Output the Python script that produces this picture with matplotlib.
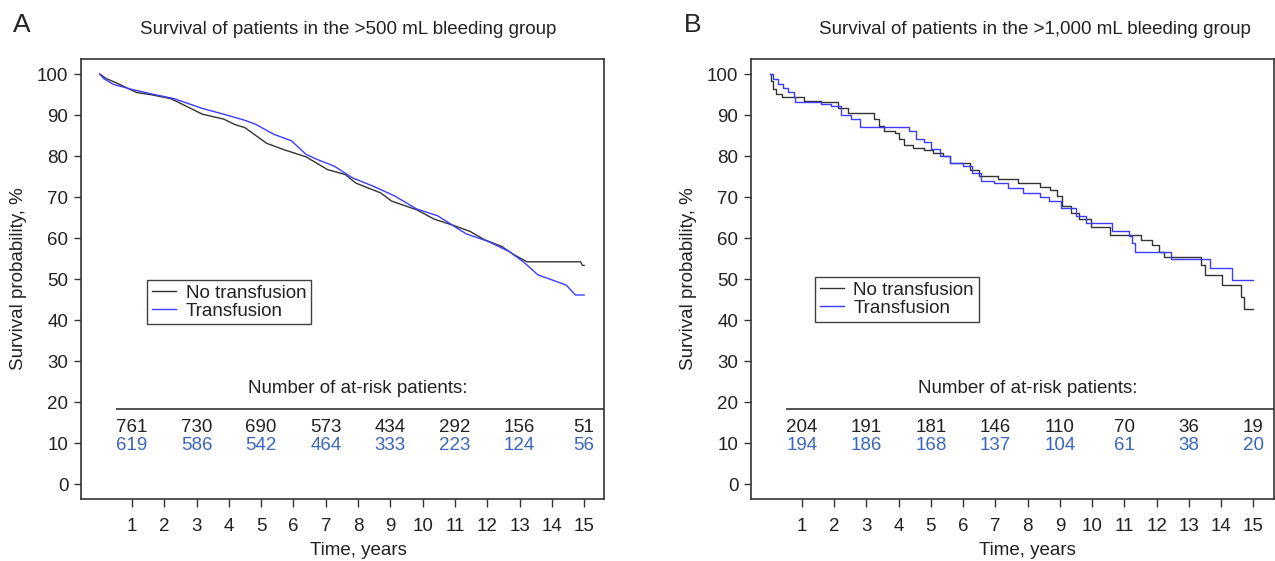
import numpy as np
import matplotlib
matplotlib.use("Agg")
import matplotlib.pyplot as plt
from matplotlib.transforms import blended_transform_factory

plt.rcParams['font.family'] = ['Liberation Sans', 'DejaVu Sans']

# Panel A (>500 mL) - curves
a_no_t = [0, 0.2, 0.53, 1.14, 1.63, 2.19, 2.41, 3.18, 3.84, 4.18, 4.5, 5.17, 5.72, 6.39, 7.05,
          7.6, 7.93, 8.7, 9.04, 9.81, 10.36, 10.91, 11.47, 11.91, 12.46, 12.79, 13.23, 14.89, 14.95, 15.0]
a_no_s = [100, 98.9, 97.8, 95.5, 94.9, 94.0, 93.2, 90.2, 89.0, 87.7, 86.9, 83.1, 81.5, 79.8, 76.7,
          75.5, 73.4, 71.0, 69.0, 66.9, 64.6, 63.2, 61.6, 59.6, 57.9, 56.1, 54.2, 54.2, 53.3, 53.3]
a_tr_t = [0, 0.14, 0.42, 0.97, 1.63, 2.3, 2.63, 3.18, 3.84, 4.5, 4.84, 5.39, 5.94, 6.39, 6.72,
          7.27, 7.82, 8.48, 9.15, 9.81, 10.47, 10.91, 11.35, 12.02, 12.68, 13.12, 13.57, 14.0,
          14.45, 14.73, 15.0]
a_tr_s = [100, 98.8, 97.5, 96.3, 95.1, 94.0, 93.1, 91.6, 90.2, 88.7, 87.7, 85.3, 83.7, 80.4, 79.2,
          77.5, 74.7, 72.6, 70.2, 67.1, 65.4, 63.2, 61.0, 59.2, 56.7, 54.2, 51.0, 49.8,
          48.5, 46.1, 46.1]

# Panel B (>1,000 mL) - step points (time, survival after drop)
b_no_t = [0, 0.05, 0.1, 0.19, 0.37, 1.05, 1.58, 2.11, 2.43, 3.06, 3.22, 3.38, 3.53, 3.9, 4.01,
          4.17, 4.43, 4.8, 5.06, 5.38, 5.59, 6.07, 6.22, 6.49, 7.07, 7.7, 8.39, 8.7, 8.91, 9.07,
          9.34, 9.6, 9.97, 10.55, 11.5, 11.87, 12.08, 12.24, 13.39, 13.5, 14.03, 14.61, 14.72, 15.0]
b_no_s = [100, 98.4, 96.3, 95.1, 94.5, 93.5, 93.1, 91.6, 90.6, 90.4, 89.0, 87.3, 86.1, 85.5, 84.1,
          82.6, 82.0, 81.5, 80.8, 80.0, 78.3, 78.2, 76.7, 75.2, 74.4, 73.3, 72.5, 71.7, 70.2, 67.7,
          66.1, 64.6, 62.8, 60.8, 59.6, 58.3, 56.7, 55.3, 53.4, 51.0, 48.5, 45.7, 42.8, 42.8]
b_tr_t = [0, 0.1, 0.26, 0.42, 0.58, 0.74, 0.79, 1.58, 1.9, 2.22, 2.53, 2.8, 4.33, 4.54, 4.8,
          5.01, 5.27, 5.59, 6.01, 6.28, 6.54, 6.96, 7.38, 7.86, 8.39, 8.65, 9.02, 9.49, 9.81,
          10.6, 11.13, 11.23, 11.34, 12.43, 13.66, 14.35, 15.0]
b_tr_s = [100, 98.8, 97.5, 96.7, 95.5, 94.3, 93.2, 92.6, 92.1, 90.0, 89.1, 87.1, 86.1, 84.1, 83.3,
          81.6, 80.0, 78.2, 77.5, 75.9, 73.9, 73.4, 72.2, 71.0, 70.0, 69.0, 67.3, 65.3, 63.6,
          61.8, 60.4, 58.7, 56.5, 54.8, 52.6, 49.8, 49.8]

risk_years = [1, 3, 5, 7, 9, 11, 13, 15]
a_risk_no = [761, 730, 690, 573, 434, 292, 156, 51]
a_risk_tr = [619, 586, 542, 464, 333, 223, 124, 56]
b_risk_no = [204, 191, 181, 146, 110, 70, 36, 19]
b_risk_tr = [194, 186, 168, 137, 104, 61, 38, 20]

titles = ["Survival of patients in the >500 mL bleeding group",
          "Survival of patients in the >1,000 mL bleeding group"]

FS = 13.5
dark = '#333333'
blue_line = '#3c3cff'
blue_text = '#3a66bd'

fig = plt.figure(figsize=(12.75, 5.61), dpi=100)
ax_a = fig.add_axes([0.0635, 0.1105, 0.4106, 0.7843])
ax_b = fig.add_axes([0.589, 0.1105, 0.41, 0.7843])

panels = [
    (ax_a, a_no_t, a_no_s, a_tr_t, a_tr_s, a_risk_no, a_risk_tr, 'default', (1.47, 49.8)),
    (ax_b, b_no_t, b_no_s, b_tr_t, b_tr_s, b_risk_no, b_risk_tr, 'steps-post', (1.40, 50.5)),
]

for ax, nt, ns, tt, ts, rno, rtr, ds, leg_pos in panels:
    ax.plot(nt, ns, color=dark, lw=1.0, drawstyle=ds, label='No transfusion')
    ax.plot(tt, ts, color=blue_line, lw=1.0, drawstyle=ds, label='Transfusion')
    ax.set_xlim(-0.58, 15.63)
    ax.set_ylim(-3.66, 103.66)
    ax.set_xticks(range(1, 16))
    ax.set_yticks(range(0, 101, 10))
    ax.tick_params(axis='x', length=6, width=1, colors=dark, labelcolor='#222222',
                   labelsize=FS, pad=8)
    ax.tick_params(axis='y', length=5, width=1, colors=dark, labelcolor='#222222',
                   labelsize=FS, pad=4)
    for sp in ax.spines.values():
        sp.set_color(dark)
        sp.set_linewidth(1.2)

    ax.set_ylabel('Survival probability, %', fontsize=FS, color='#222222')
    ax.yaxis.set_label_coords(-0.103, 0.5)
    tr = blended_transform_factory(ax.transData, ax.transAxes)
    ax.text(8, -0.116, 'Time, years', transform=tr, ha='center', va='center',
            fontsize=FS, color='#222222')

    # at-risk table
    ax.text(8.0, 23.4, 'Number of at-risk patients:', ha='center', va='center',
            fontsize=FS, color='#222222')
    ax.hlines(18.3, 0.5, 15.63, color=dark, lw=1.2)
    for x, n1, n2 in zip(risk_years, rno, rtr):
        ax.text(x, 13.7, str(n1), ha='center', va='center', fontsize=FS, color='#222222')
        ax.text(x, 9.3, str(n2), ha='center', va='center', fontsize=FS, color=blue_text)

    leg = ax.legend(loc='upper left', bbox_to_anchor=leg_pos, bbox_transform=ax.transData,
                    fontsize=FS, frameon=True, fancybox=False, borderaxespad=0,
                    borderpad=0.25, labelspacing=0.05, handlelength=1.3, handletextpad=0.5)
    leg.get_frame().set_edgecolor('#111111')
    leg.get_frame().set_linewidth(1.0)
    for txt in leg.get_texts():
        txt.set_color('#222222')

fig.text(348 / 1275, 1 - 30 / 561, titles[0], ha='center', va='center', fontsize=FS, color='#222222')
fig.text(1035 / 1275, 1 - 30 / 561, titles[1], ha='center', va='center', fontsize=FS, color='#222222')
fig.text(22 / 1275, 1 - 25 / 561, 'A', ha='center', va='center', fontsize=19, color='#222222')
fig.text(693 / 1275, 1 - 25 / 561, 'B', ha='center', va='center', fontsize=19, color='#222222')

fig.savefig('out.png', dpi=100)
